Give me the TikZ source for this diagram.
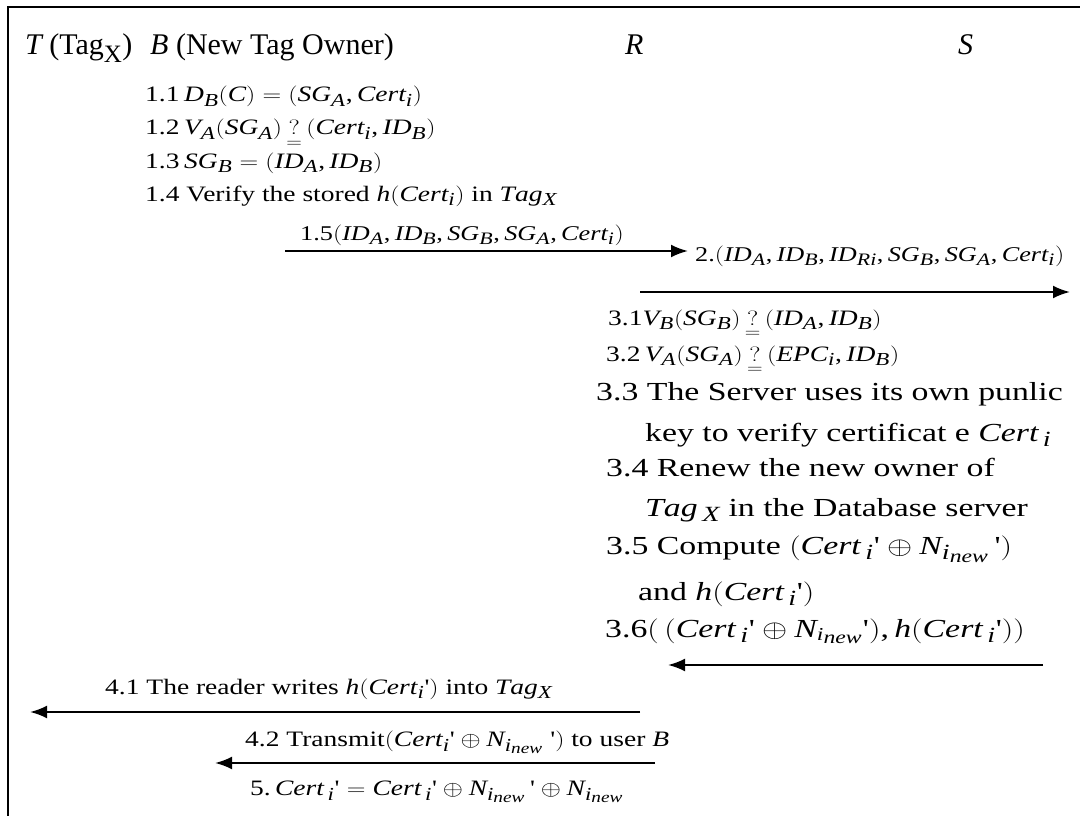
\documentclass[tikz,border=0pt]{standalone}
\usepackage{amsmath}
\usepackage{graphicx}
\usepackage{fontspec}
\setmainfont{Liberation Serif}
\usepackage[italic]{mathastext}
\usetikzlibrary{arrows.meta}

\tikzset{
  hd/.style={anchor=base west, inner sep=0pt, font=\fontsize{30}{34}\selectfont},
  stp/.style={anchor=base west, inner sep=0pt, font=\fontsize{22}{26}\selectfont},
  sml/.style={anchor=base west, inner sep=0pt, font=\fontsize{21}{25}\selectfont},
  big/.style={anchor=base west, inner sep=0pt, font=\fontsize{26}{30}\selectfont},
  msg/.style={line width=2.2pt, -{Latex[length=17pt,width=13pt]}},
}
\newcommand{\qeq}{\underset{=}{?}}
\newcommand{\pr}{\text{\textquotesingle}}
\newcommand{\xs}[1]{\scalebox{1.25}[1]{#1}}
\newcommand{\xb}[1]{\scalebox{1.3}[1]{#1}}

\begin{document}
\begin{tikzpicture}[x=1pt,y=-1pt]
\useasboundingbox (0,0) rectangle (1080,816);

% draw the frame
\draw[line width=1.6pt] (1080,7) -- (8,7) -- (8,816);

% draw the parties
\node[hd] (tagT) at (25,55) {$T$ (Tag$_{\mathrm{X}}$)};
\node[hd] (ownB) at (150,55) {$B$ (New Tag Owner)};
\node[hd] (rdrR) at (625,55) {$R$};
\node[hd] (srvS) at (958,55) {$S$};

% draw steps of B
\node[stp] (s11) at (145,102) {\xs{1.1\,$D_B(C)=(SG_A,Cert_i)$}};
\node[stp] (s12) at (145,135) {\xs{1.2\,$V_A(SG_A)\,\qeq\,(Cert_i,ID_B)$}};
\node[stp] (s13) at (145,168) {\xs{1.3\,$SG_B=(ID_A,ID_B)$}};
\node[stp] (s14) at (145,201) {\xs{1.4 Verify the stored $h(Cert_i)$ in $Tag_X$}};
\node[sml] (s15) at (300,240) {\xs{1.5$(ID_A,ID_B,SG_B,SG_A,Cert_i)$}};
\node[sml] (s2) at (695,261) {\xs{2.$(ID_A,ID_B,ID_{Ri},SG_B,SG_A,Cert_i)$}};

% draw steps of S
\node[stp] (s31) at (608,325) {\xs{3.1$V_B(SG_B)\,\qeq\,(ID_A,ID_B)$}};
\node[stp] (s32) at (606,361) {\xs{3.2$\,V_A(SG_A)\,\qeq\,(EPC_i,ID_B)$}};
\node[big] (s33) at (596,400) {\xb{3.3 The Server uses its own punlic}};
\node[big] (s33b) at (645,441) {\xb{key to verify certificat e $Cert_{\,i}$}};
\node[big] (s34) at (606,476) {\xb{3.4 Renew the new owner of}};
\node[big] (s34b) at (645,516) {\xb{$Tag_{\,X}$ in the Database server}};
\node[big] (s35) at (606,554) {\xb{3.5 Compute $(Cert_{\,i}\pr\oplus N_{i_{new}}\,\pr)$}};
\node[big] (s35b) at (638,600) {\xb{and $h(Cert_{\,i}\pr)$}};
\node[big] (s36) at (605,637) {\xb{3.6$(\,(Cert_{\,i}\pr\oplus N_{\scriptscriptstyle i_{new}}\pr),h(Cert_{\,i}\pr))$}};

% draw steps of R and B
\node[stp] (s41) at (105,694) {\xs{4.1 The reader writes $h(Cert_i\pr)$ into $Tag_X$}};
\node[stp] (s42) at (245,746) {\xs{4.2 Transmit$(Cert_i\pr\oplus N_{i_{new}}\ \pr)$ to user $B$}};
\node[stp] (s5) at (250,795) {\xs{5.$\,Cert_{\,i}\pr=Cert_{\,i}\pr\oplus N_{i_{new}}\,\pr\oplus N_{i_{new}}$}};

% draw the messages
\coordinate (m1a) at (285,251);  \coordinate (m1b) at (688,251);
\coordinate (m2a) at (640,292);  \coordinate (m2b) at (1070,292);
\coordinate (m3a) at (1043,665); \coordinate (m3b) at (668,665);
\coordinate (m4a) at (640,712);  \coordinate (m4b) at (30,712);
\coordinate (m5a) at (655,763);  \coordinate (m5b) at (215,763);
\draw[msg] (m1a) -- (m1b);
\draw[msg] (m2a) -- (m2b);
\draw[msg] (m3a) -- (m3b);
\draw[msg] (m4a) -- (m4b);
\draw[msg] (m5a) -- (m5b);

\end{tikzpicture}
\end{document}
